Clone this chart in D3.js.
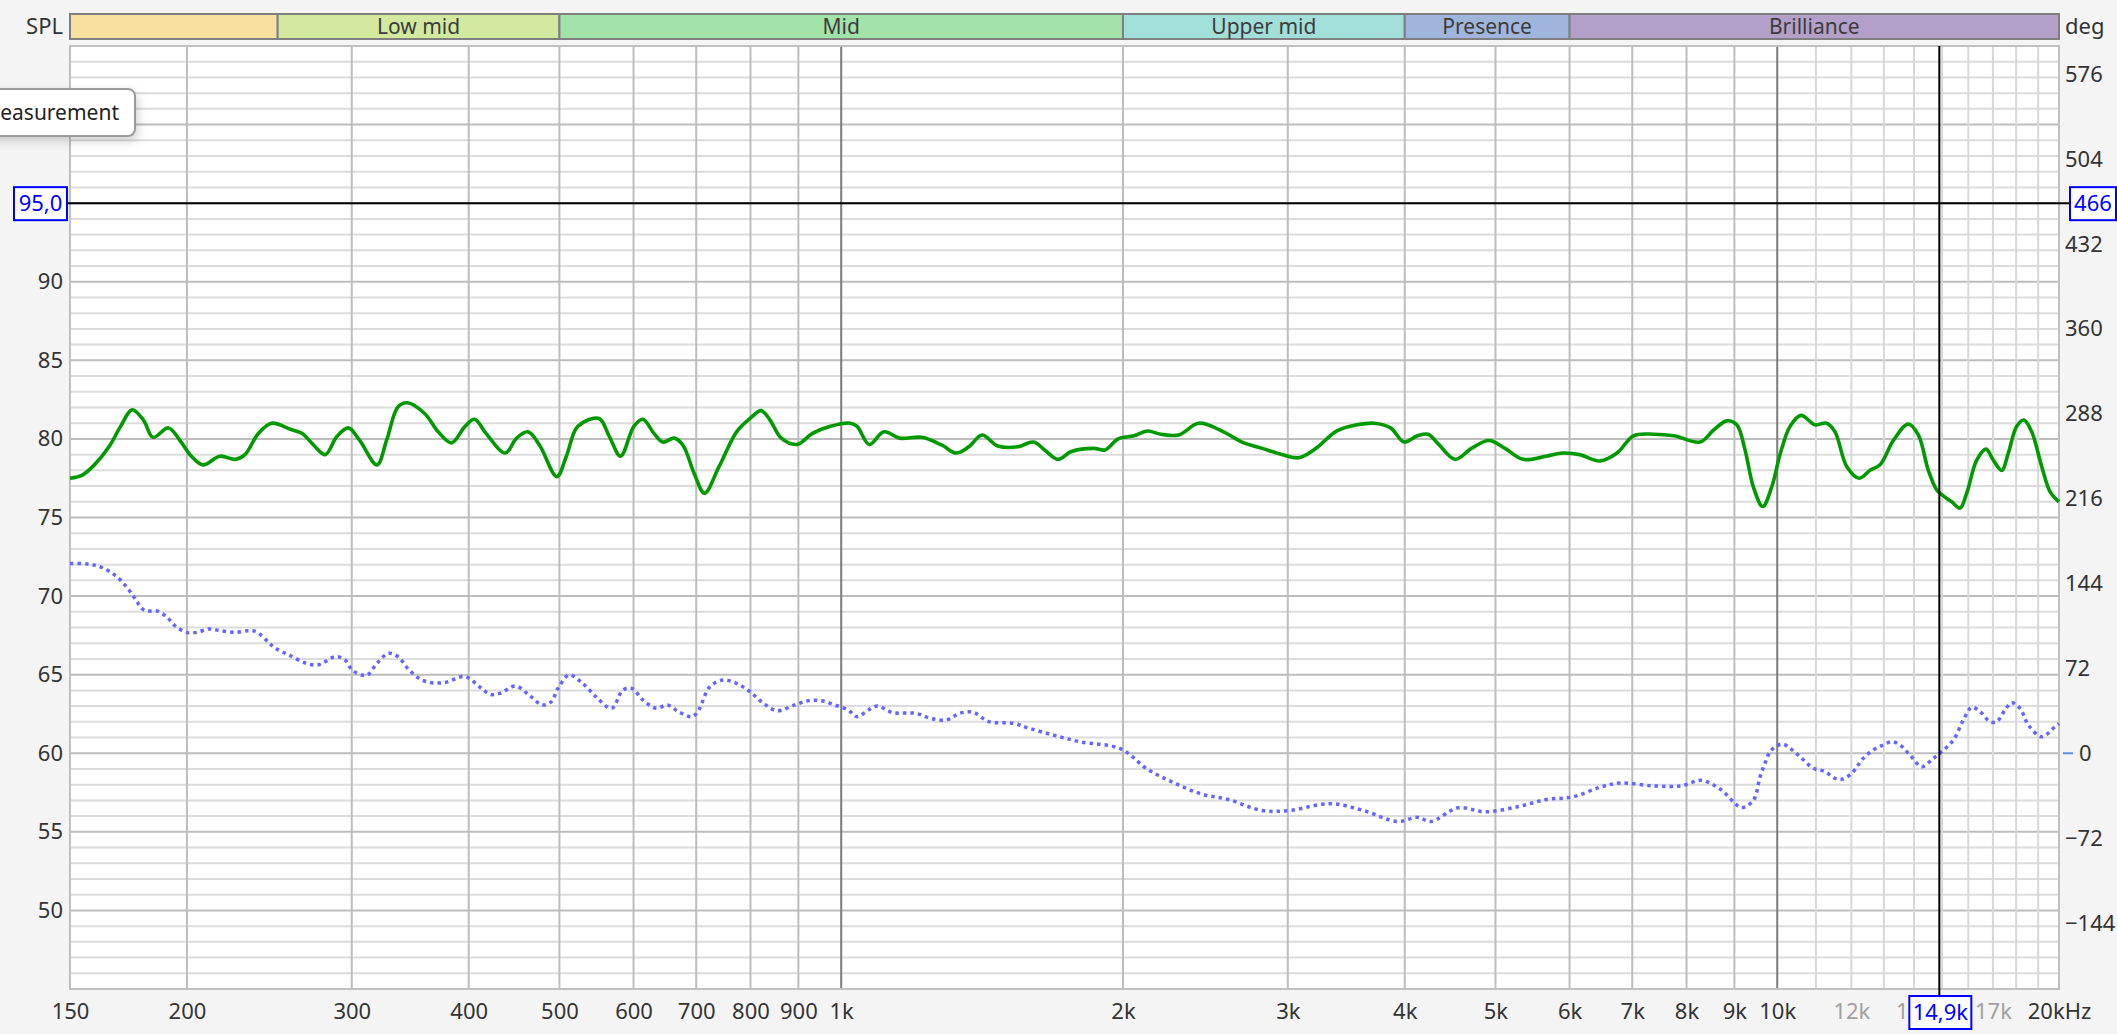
<!DOCTYPE html>
<html><head><meta charset="utf-8">
<script src="https://cdn.jsdelivr.net/npm/d3@7"></script>
<style>
html,body{margin:0;padding:0;background:#f4f4f4;overflow:hidden;}
svg{display:block;}
text{font-family:"Noto Sans","Open Sans","DejaVu Sans",sans-serif;}
</style></head><body>
<svg id="chart" width="2117" height="1034"></svg>
<script>
// ---------------- data ----------------
const splFreq = [150,154.6,159,165.1,169.9,174.7,179.7,184,191.1,196.6,202.2,208,216.9,225.3,230.7,238.4,246.4,258.3,265.6,273.2,281.1,289.2,297.5,305.9,319.2,326.8,336.2,344.2,359.1,371.1,383.5,396.4,405.8,417.4,437.6,450,462.8,476.2,496.8,508.6,523.2,551.1,565.4,581.1,600.5,614,631,645.1,663,677.6,696.5,714.4,740,773.1,799,821.3,839.4,863,896.8,931.9,973.8,1022.9,1040,1071.3,1110.8,1154.5,1219.6,1281.4,1327,1368.8,1414.3,1470,1544.5,1605,1649.4,1704.7,1761.8,1861.6,1913.1,1977.3,2054.7,2123.6,2194.8,2293.5,2409.8,2552,2680,2816,2961,3082,3216,3382,3557,3709,3863,3993,4128,4236,4341,4527,4714,4922,5119,5351,5662,5904,6149,6467,6743,7022,7386,7758,8271,8546,8832,9052,9239,9429,9650,9866,10069,10320,10603,10974,11295,11528,11864,12238,12564,12877,13306,13806,14150,14502,14805,14988,15362,15678,15939,16335,16713,17016,17371,17656,18024,18351,18702,19167,19563,20000];
const splDb = [77.5,77.7,78.3,79.5,80.8,81.85,81.2,80.1,80.7,79.9,78.9,78.35,78.9,78.7,79.0,80.35,81.0,80.6,80.35,79.6,79.0,80.15,80.7,79.9,78.35,79.9,82.05,82.3,81.6,80.45,79.75,80.8,81.25,80.35,79.1,80.05,80.45,79.6,77.6,78.9,80.8,81.3,80.15,78.9,80.8,81.25,80.35,79.8,80.05,79.6,77.8,76.55,78.2,80.45,81.3,81.8,81.2,80.05,79.65,80.35,80.8,81.0,80.8,79.65,80.45,80.05,80.1,79.6,79.1,79.5,80.25,79.55,79.5,79.8,79.3,78.7,79.2,79.4,79.3,80.0,80.2,80.5,80.3,80.25,81.0,80.5,79.8,79.4,79.0,78.8,79.4,80.5,80.9,81.0,80.7,79.8,80.2,80.3,79.7,78.7,79.4,79.9,79.4,78.7,78.9,79.1,79.0,78.6,79.1,80.2,80.3,80.2,79.8,80.55,81.15,80.9,79.3,76.95,75.7,76.95,79.0,80.8,81.5,80.9,81.0,80.45,78.25,77.5,78.0,78.35,79.9,80.95,80.25,78.0,76.75,76.45,76.0,75.6,76.55,78.65,79.35,78.65,78.0,79.1,80.8,81.2,80.45,78.25,76.65,76.0];

const phaseFreq = [150,156.8,162,167.5,172.3,176.4,178.9,181.4,185.7,190.2,194.7,200.3,205.1,210.9,216.9,225.3,232.9,237.3,244.1,248.7,257,268.2,275.8,281.1,287.8,294.6,300.3,307.4,311.8,319.2,328.3,336.2,344.2,354,363.7,377.3,396.4,411.3,421.5,432,448.9,464,479.5,490.1,498.3,512.2,529.4,547.1,568.5,584.4,597.3,614,634.5,652.1,670.3,692.8,704.3,723.8,748,773.1,799,825.8,853.5,891.7,921.6,952.5,984.4,1017.4,1040,1069,1092.6,1135.7,1199.7,1246.6,1295.4,1338.8,1383.7,1437.8,1527.6,1587.3,1683.9,1799.6,1988.3,2124.6,2270.6,2426.6,2593.2,2815.7,3009,3328.4,3614.4,3924.9,4128,4267,4560,4873,5299,5662,6051,6467,6793,7386,7893,8291,8709,9159,9429,9586,9704,9824,9988,10136,10320,10577,10929,11248,11528,11720,12011,12358,12666,12981,13252,13526,13863,14268,14681,14988,15423,15807,16137,16470,16880,17160,17514,17805,18172,18547,19167,19805,20000];
const phaseDeg = [161,160.6,157.7,151.2,141.3,130,122.9,120.7,120.7,115.8,107.4,102.3,102.6,105.4,104,102.6,104,103.1,94.6,89,83.4,76.3,74.9,77.7,81.9,79.7,70.6,66.4,66.4,76.3,84.8,81.9,72.1,63.6,60,60,65,56,50,50.8,57,49.4,40.9,43.7,55.1,66.4,59.3,47.9,38.1,53.6,55.1,45.2,38.1,40.9,35.2,31,36.7,56.4,62.1,59.3,52.2,42.4,36.1,40.9,44.6,44.6,40.9,36.7,31,36.7,40.1,34.4,33.9,29.6,28.2,33.9,34.8,26.8,25.4,21.2,15.5,9.7,3.8,-13.6,-25.3,-34.6,-39.3,-48.6,-48.6,-42.8,-48.6,-57.9,-54.4,-57.9,-46.3,-49.7,-45.1,-39.3,-37,-28.8,-25.3,-27.7,-27.7,-23,-31,-46,-40,-20,-8.5,1.3,6.2,7.9,4.2,-2.9,-12.8,-15.6,-21.3,-22.1,-17,-4.3,2.8,7,9.8,7,-1.5,-11.4,-4.3,1.3,11.2,28.2,39.0,35.3,26.8,26.8,36.7,42.9,38.1,24,14,22.5,25];

const xTickValues = [150,200,300,400,500,600,700,800,900,1000,2000,3000,4000,5000,6000,7000,8000,9000,10000,12000,14000,17000,20000];
const xTickLabels = ["150","200","300","400","500","600","700","800","900","1k","2k","3k","4k","5k","6k","7k","8k","9k","10k","12k","14k","17k","20kHz"];
const xTickMuted = [12000,14000,17000];
const splTicks = [50,55,60,65,70,75,80,85,90];
const degTicks = [-144,-72,0,72,144,216,288,360,432,504,576];

const bandNames = ["Bass","Low mid","Mid","Upper mid","Presence","Brilliance"];
const bandStart = [60,250,500,2000,4000,6000];
const bandEnd = [250,500,2000,4000,6000,20000];
const bandColors = ["#f8e1a0","#d3e9a0","#a1e3a9","#a1dfd8","#a0b5dc","#b3a0c8"];

const cursorFreq = 14900, cursorFreqLabel = "14,9k";
const cursorSpl = 95.0, cursorSplLabel = "95,0";
const cursorDegLabel = "466";

// ---------------- layout ----------------
const L = 70, R = 2059, T = 46, B = 989;
const svg = d3.select("#chart");
const x = d3.scaleLog().domain([150,20000]).range([L,R]);
const y = d3.scaleLinear().domain([45,105]).range([B,T]);
const yDeg = d3.scaleLinear().domain([-200,600]).range([B,T]);

svg.append("rect").attr("width",2117).attr("height",1034).attr("fill","#f4f4f4");

const defs = svg.append("defs");
const flt = defs.append("filter").attr("id","shadow").attr("x","-20%").attr("y","-40%").attr("width","160%").attr("height","200%");
flt.append("feDropShadow").attr("dx",2).attr("dy",4).attr("stdDeviation",5).attr("flood-color","#000").attr("flood-opacity",0.18);

// band strip
const bands = bandNames.map((n,i)=>({name:n,s:bandStart[i],e:bandEnd[i],c:bandColors[i]}));
const bg = svg.append("g");
bg.selectAll("rect").data(bands).join("rect")
  .attr("x",d=>Math.max(L,x(d.s))).attr("y",14)
  .attr("width",d=>Math.min(R,x(d.e))-Math.max(L,x(d.s))).attr("height",25)
  .attr("fill",d=>d.c).attr("stroke","#7f7f7f").attr("stroke-width",2);
bg.selectAll("text").data(bands.filter(d=>Math.sqrt(d.s*d.e)>=150)).join("text")
  .attr("x",d=>x(Math.sqrt(d.s*d.e))).attr("y",27).attr("dy","0.35em")
  .attr("text-anchor","middle").attr("font-size",21).attr("fill","#3c3c3c").text(d=>d.name);

// plot background
svg.append("rect").attr("x",L).attr("y",T).attr("width",R-L).attr("height",B-T).attr("fill","#ffffff");

// horizontal grid
svg.append("g").selectAll("line").data(d3.range(46,105,1)).join("line")
  .attr("x1",L).attr("x2",R).attr("y1",d=>y(d)).attr("y2",d=>y(d))
  .attr("stroke",d=>d%5===0?"#bdbdbd":"#dcdcdc").attr("stroke-width",2);

// vertical grid
const vgVals = [...d3.range(200,1000,100),1000,...d3.range(2000,10000,1000),10000,...d3.range(11000,20000,1000)];
svg.append("g").selectAll("line").data(vgVals).join("line")
  .attr("x1",d=>x(d)).attr("x2",d=>x(d)).attr("y1",T).attr("y2",B)
  .attr("stroke",d=>(d===1000||d===10000)?"#7c7c7c":(d>10000?"#d8d8d8":"#bdbdbd")).attr("stroke-width",2);

// plot border
svg.append("rect").attr("x",L).attr("y",T).attr("width",R-L).attr("height",B-T)
  .attr("fill","none").attr("stroke","#c0c0c0").attr("stroke-width",2);

// curves
const splData = splFreq.map((f,i)=>[f,splDb[i]]);
const phData = phaseFreq.map((f,i)=>[f,phaseDeg[i]]);
const lineSpl = d3.line().x(d=>x(d[0])).y(d=>y(d[1])).curve(d3.curveCatmullRom.alpha(0.5));
const linePh = d3.line().x(d=>x(d[0])).y(d=>yDeg(d[1])).curve(d3.curveCatmullRom.alpha(0.5));
svg.append("path").datum(phData).attr("d",linePh).attr("fill","none")
  .attr("stroke","#6666ff").attr("stroke-width",3.5).attr("stroke-dasharray","3.5,4");
svg.append("path").datum(splData).attr("d",lineSpl).attr("fill","none")
  .attr("stroke","#009a00").attr("stroke-width",3.6).attr("stroke-linejoin","round");

// axes
const fs = 22;
const ax = svg.append("g").attr("transform",`translate(${L},0)`)
  .call(d3.axisLeft(y).tickValues(splTicks).tickSize(0).tickPadding(7).tickFormat(d3.format("d")));
ax.select(".domain").remove();
ax.selectAll("text").attr("font-size",fs).attr("fill","#333").attr("font-family",null);

const axr = svg.append("g").attr("transform",`translate(${R},0)`)
  .call(d3.axisRight(yDeg).tickValues(degTicks).tickSize(0).tickPadding(6).tickFormat(d=>d===0?"":d3.format("d")(d)));
axr.select(".domain").remove();
axr.selectAll("text").attr("font-size",fs).attr("fill","#333").attr("font-family",null);
svg.append("text").attr("x",2079).attr("y",yDeg(0)).attr("dy","0.35em").attr("font-size",fs).attr("fill","#333").text("0");
svg.append("line").attr("x1",2063).attr("x2",2073).attr("y1",yDeg(0)).attr("y2",yDeg(0)).attr("stroke","#5b8ff0").attr("stroke-width",2);

const axb = svg.append("g").attr("transform",`translate(0,${B})`)
  .call(d3.axisBottom(x).tickValues(xTickValues).tickSize(0).tickPadding(14).tickFormat((d,i)=>xTickLabels[i]));
axb.select(".domain").remove();
axb.selectAll("text").attr("font-size",fs).attr("font-family",null)
  .attr("fill",d=>xTickMuted.includes(d)?"#a0a0a0":"#333");

svg.append("text").attr("x",63).attr("y",26).attr("dy","0.35em").attr("text-anchor","end").attr("font-size",fs).attr("fill","#333").text("SPL");
svg.append("text").attr("x",2065).attr("y",26).attr("dy","0.35em").attr("font-size",fs).attr("fill","#333").text("deg");

// cursor crosshair (readout box covers most of the 14k tick label, as in the original)
const cx = x(cursorFreq), cy = y(cursorSpl);
svg.append("line").attr("x1",67).attr("x2",2069).attr("y1",cy).attr("y2",cy).attr("stroke","#000").attr("stroke-width",2);
svg.append("line").attr("x1",cx).attr("x2",cx).attr("y1",T).attr("y2",996).attr("stroke","#000").attr("stroke-width",2);
function box(x0,y0,w,h,label){
  svg.append("rect").attr("x",x0).attr("y",y0).attr("width",w).attr("height",h).attr("fill","#fff").attr("stroke","#0000ff").attr("stroke-width",2);
  svg.append("text").attr("x",x0+w/2).attr("y",y0+h/2).attr("dy","0.35em").attr("text-anchor","middle").attr("font-size",fs).attr("fill","#0000ff").text(label);
}
box(14,cy-16,53,33,cursorSplLabel);
box(2070,cy-16,46,33,cursorDegLabel);
box(cx-30,996,62,33,cursorFreqLabel);

// tooltip
const tip = svg.append("g");
tip.append("rect").attr("x",-20).attr("y",89).attr("width",155).attr("height",47).attr("rx",7)
  .attr("fill","#fff").attr("stroke","#9a9a9a").attr("stroke-width",2).attr("filter","url(#shadow)");
tip.append("text").attr("x",119).attr("y",113).attr("dy","0.35em").attr("text-anchor","end").attr("font-size",21).attr("fill","#222").text("easurement");
</script>
</body></html>
